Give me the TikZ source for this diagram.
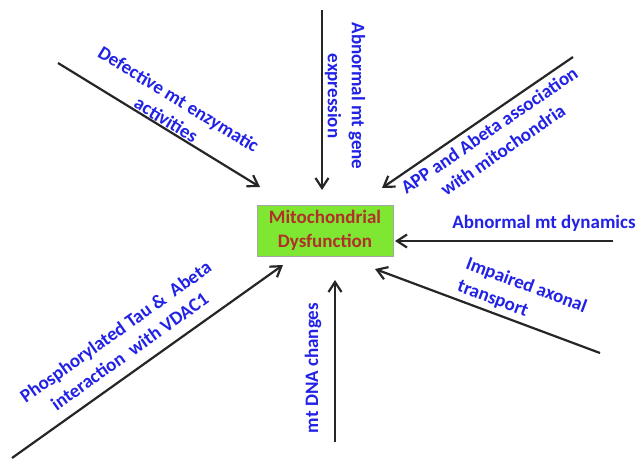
\documentclass[tikz,border=0pt]{standalone}
\usepackage{fontspec}
\setmainfont{Carlito}
\usetikzlibrary{arrows.meta}
\definecolor{lblblue}{HTML}{2222E6}
\definecolor{boxgreen}{HTML}{7FE631}
\definecolor{boxred}{HTML}{B0302A}
\definecolor{arrgray}{HTML}{262626}
\tikzset{
  lbl/.style={text=lblblue, font=\fontsize{19}{24}\selectfont\bfseries, inner sep=0pt},
  arr/.style={draw=arrgray, line width=2.2pt, -{Straight Barb[length=10pt,width=13pt,line width=2.2pt]}},
  centerbox/.style={draw=gray!70, fill=boxgreen, line width=0.6pt, minimum width=136pt, minimum height=51pt, inner sep=0pt, text=boxred, align=center, font=\fontsize{19}{24}\selectfont\bfseries}
}
\begin{document}
\begin{tikzpicture}[x=1pt,y=-1pt]
\useasboundingbox (0,0) rectangle (639,459);
\fill[white] (0,0) rectangle (639,459);
\node[centerbox] (mito) at (325,230.5) {Mitochondrial\\Dysfunction};

\coordinate (t1) at (58,63);   \coordinate (h1) at (260,187);
\coordinate (t2) at (322,10);  \coordinate (h2) at (322,190);
\coordinate (t3) at (573,57);  \coordinate (h3) at (382,188);
\coordinate (t4) at (613,241); \coordinate (h4) at (395,241);
\coordinate (t5) at (600,353); \coordinate (h5) at (375,269);
\coordinate (t6) at (335,442); \coordinate (h6) at (335,280);
\coordinate (t7) at (12,458);  \coordinate (h7) at (283,265);

\foreach \i in {1,...,7} { \draw[arr] (t\i) -- (h\i); }

\node[lbl, align=center, rotate=-31.5] (l1) at (172.5,109.5) {Defective mt enzymatic\\activities};
\node[lbl, align=center, rotate=-90] (l2) at (345,96) {Abnormal mt gene\\expression};
\node[lbl, align=center, rotate=34.4] (l3) at (496,140) {APP and Abeta association\\with mitochondria};
\node[lbl] (l4) at (544,223) {Abnormal mt dynamics};
\node[lbl, align=left, rotate=-20.5] (l5) at (522,297) {Impaired axonal\\transport};
\node[lbl, rotate=90] (l6) at (313,368) {mt DNA changes};
\node[lbl, align=center, rotate=35.5] (l7) at (122.5,341.5) {Phosphorylated Tau \&\ \ Abeta\\interaction\ \ with VDAC1};
\end{tikzpicture}
\end{document}
